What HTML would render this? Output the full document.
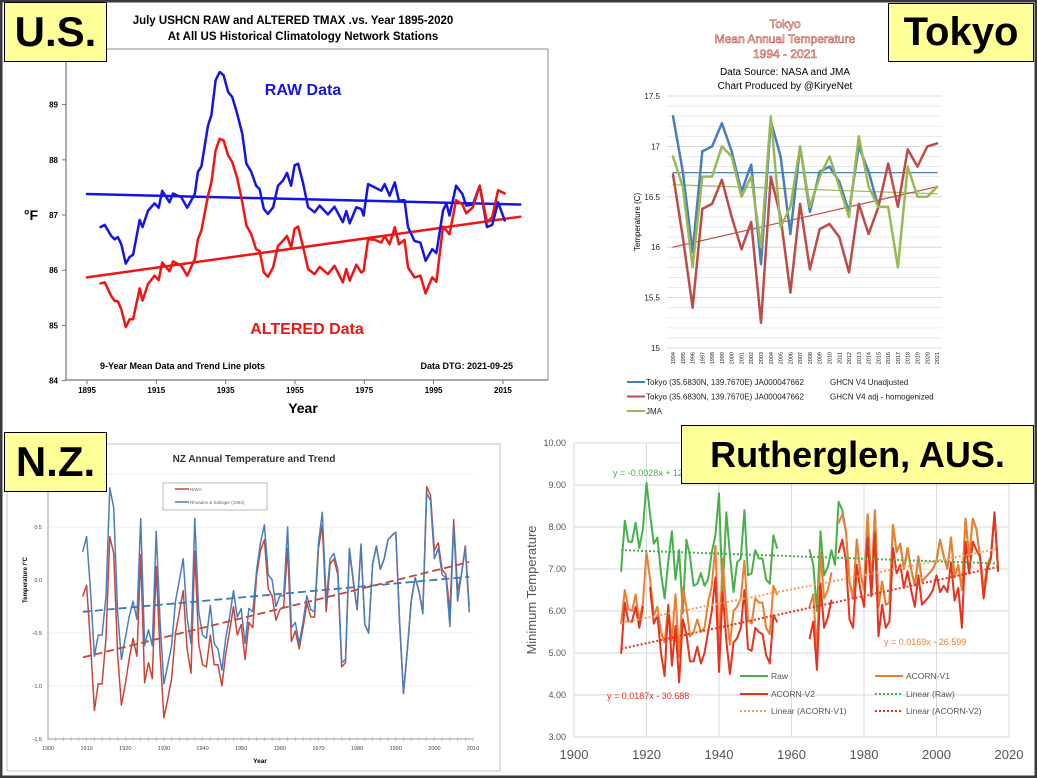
<!DOCTYPE html>
<html><head><meta charset="utf-8"><style>
html,body{margin:0;padding:0;background:#fff;}
#wrap{position:relative;width:1037px;height:778px;overflow:hidden;background:#fff;}
svg{position:absolute;left:0;top:0;}
.lbl{position:absolute;background:#ffff99;border:1.5px solid #000;font-family:"Liberation Sans",sans-serif;font-weight:bold;color:#000;text-align:center;box-sizing:border-box;}
text{font-family:"Liberation Sans",sans-serif;}
</style></head><body>
<div id="wrap">
<svg id="svg" width="1037" height="778" viewBox="0 0 1037 778">
<rect x="0" y="0" width="1037" height="778" fill="none" stroke="#3a3a3a" stroke-width="5"/>
<g id="us">
<line x1="107" y1="49" x2="548" y2="49" stroke="#888" stroke-width="1"/>
<line x1="548" y1="49" x2="548" y2="380" stroke="#888" stroke-width="1"/>
<text x="293" y="24" font-size="11.5" font-weight="bold" text-anchor="middle">July USHCN RAW and ALTERED TMAX .vs. Year 1895-2020</text>
<text x="303" y="40" font-size="11.5" font-weight="bold" text-anchor="middle">At All US Historical Climatology Network Stations</text>
<text x="303" y="95" font-size="16" font-weight="bold" fill="#1414e6" text-anchor="middle">RAW Data</text>
<text x="307" y="334" font-size="16" font-weight="bold" fill="#f01414" text-anchor="middle">ALTERED Data</text>
<text x="100" y="369" font-size="9" font-weight="bold">9-Year Mean Data and Trend Line plots</text>
<text x="513" y="369" font-size="9" font-weight="bold" text-anchor="end">Data DTG: 2021-09-25</text>
<text x="31" y="220" font-size="14" font-weight="bold" text-anchor="middle">°F</text>
<text x="303" y="413" font-size="14" font-weight="bold" text-anchor="middle">Year</text>
</g>
<g id="tk">
<text x="785" y="28" font-size="12" fill="#fff" stroke="#c0504d" stroke-width="0.6" text-anchor="middle" font-family="Liberation Serif">Tokyo</text>
<text x="785" y="43" font-size="12" fill="#fff" stroke="#c0504d" stroke-width="0.6" text-anchor="middle" font-family="Liberation Serif">Mean Annual Temperature</text>
<text x="785" y="58" font-size="12" fill="#fff" stroke="#c0504d" stroke-width="0.6" text-anchor="middle" font-family="Liberation Serif">1994 - 2021</text>
<text x="785" y="75" font-size="10" text-anchor="middle">Data Source: NASA and JMA</text>
<text x="785" y="89" font-size="10" text-anchor="middle">Chart Produced by @KiryeNet</text>
<text x="0" y="0" font-size="8" text-anchor="middle" transform="translate(640,222) rotate(-90)">Temperature (C)</text>
</g>
<g id="nz">
<rect x="7" y="444" width="493" height="327" fill="#fff" stroke="#ccc" stroke-width="1.2"/>
<text x="254" y="462" font-size="10" font-weight="bold" fill="#333" text-anchor="middle">NZ Annual Temperature and Trend</text>
<text x="0" y="0" font-size="6" font-weight="bold" text-anchor="middle" transform="translate(27,580) rotate(-90)">Temperature /°C</text>
<text x="260" y="763" font-size="6.5" font-weight="bold" text-anchor="middle">Year</text>
</g>
<g id="au">
<text x="0" y="0" font-size="13" fill="#555" text-anchor="middle" transform="translate(536,590) rotate(-90)">Minimum Temperature</text>
</g>
</svg>
<div class="lbl" style="left:4px;top:2px;width:103px;height:60px;font-size:42px;line-height:58px;">U.S.</div>
<div class="lbl" style="left:888px;top:3px;width:146px;height:59px;font-size:40px;line-height:57px;">Tokyo</div>
<div class="lbl" style="left:4px;top:432px;width:103px;height:60px;font-size:42px;line-height:58px;">N.Z.</div>
<div class="lbl" style="left:681px;top:425px;width:353px;height:59px;font-size:36px;line-height:57px;">Rutherglen, AUS.</div>
</div>
<script>
// ---------- US data ----------
const usYears=[1898.9,1900.1,1902.0,1903.0,1903.9,1904.9,1906.2,1907.3,1908.3,1910.2,1911.0,1912.6,1914.5,1915.7,1916.7,1918.8,1919.8,1922.2,1923.9,1926.1,1927.0,1928.0,1929.9,1930.9,1932.1,1933.3,1934.4,1935.7,1936.9,1938.3,1939.8,1941.0,1942.4,1943.8,1944.8,1946.0,1947.2,1948.7,1950.1,1951.5,1952.7,1953.9,1954.9,1955.9,1957.3,1958.8,1960.7,1962.1,1964.5,1966.4,1968.8,1969.8,1970.8,1972.7,1974.1,1974.8,1976.1,1978.0,1979.9,1980.9,1982.3,1983.8,1985.0,1986.6,1987.6,1989.5,1991.2,1992.7,1994.6,1995.8,1997.7,1998.7,1999.6,2001.5,2003.3,2004.4,2006.3,2008.3,2010.4,2011.9,2013.6,2015.5];
const usRaw=[86.78,86.82,86.62,86.56,86.6,86.47,86.12,86.24,86.28,86.91,86.78,87.08,87.21,87.13,87.44,87.23,87.39,87.32,87.13,87.38,87.78,87.88,88.62,88.81,89.44,89.59,89.53,89.23,89.14,88.84,88.47,87.93,87.78,87.53,87.47,87.11,87.02,87.14,87.53,87.62,87.76,87.53,87.9,87.93,87.59,87.14,87.05,87.17,87.01,87.15,86.87,87.07,86.85,87.14,87.11,86.99,87.56,87.5,87.44,87.56,87.35,87.59,87.26,87.27,86.78,86.53,86.5,86.17,86.38,86.31,87.08,87.21,86.99,87.53,87.38,87.17,87.19,87.53,86.78,86.82,87.23,86.9];
const usAltered=[85.76,85.78,85.53,85.44,85.44,85.29,84.97,85.11,85.11,85.67,85.45,85.75,85.9,85.82,86.14,85.98,86.16,86.08,85.9,86.2,86.56,86.72,87.35,87.59,88.17,88.38,88.35,88.08,87.96,87.68,87.23,86.81,86.65,86.38,86.35,85.96,85.88,86.05,86.44,86.53,86.62,86.41,86.75,86.79,86.44,86.02,85.93,86.06,85.93,86.08,85.78,86.02,85.81,86.1,85.96,85.99,86.56,86.55,86.5,86.62,86.47,86.78,86.47,86.55,86.05,85.87,85.9,85.58,85.87,85.79,86.79,86.72,86.65,87.27,87.19,87.03,87.14,87.53,86.87,86.96,87.45,87.39];
const usTrendYears=[1895,2020];
const usRawTrend=[87.38,87.19];
const usAlteredTrend=[85.87,86.97];
const usYTicks=[84,85,86,87,88,89];
const usXTicks=[1895,1915,1935,1955,1975,1995,2015];
// ---------- Tokyo data ----------
const tkYears=[1994,1995,1996,1997,1998,1999,2000,2001,2002,2003,2004,2005,2006,2007,2008,2009,2010,2011,2012,2013,2014,2015,2016,2017,2018,2019,2020,2021];
const tkUnadj=[17.3,16.75,15.95,16.95,17.0,17.23,16.95,16.55,16.82,15.83,17.25,16.9,16.13,17.0,16.35,16.75,16.8,16.65,16.35,17.0,16.75,16.4];
const tkAdj=[16.72,16.1,15.4,16.38,16.43,16.67,16.3,15.98,16.25,15.25,16.7,16.3,15.55,16.43,15.78,16.18,16.23,16.1,15.75,16.43,16.13,16.4,16.83,16.4,16.97,16.8,17.0,17.03];
const tkJMA=[16.9,16.6,15.8,16.7,16.7,17.0,16.9,16.5,16.7,16.0,17.3,16.2,16.4,17.0,16.4,16.7,16.9,16.6,16.3,17.1,16.6,16.4,16.4,15.8,16.8,16.5,16.5,16.6];
const tkTrendYears=[1994,2021];
const tkUnadjTrend=[16.74,16.74];
const tkAdjTrend=[16.0,16.6];
const tkJMATrend=[16.62,16.53];
const tkYTicks=[15,15.5,16,16.5,17,17.5];
const tkYLabels=["15","15.5","16","16.5","17","17.5"];
// ---------- NZ data ----------
const nzYears=[];for(let y=1909;y<=2009;y++)nzYears.push(y);
const nzRS=[0.27,0.41,-0.1,-0.72,-0.52,-0.52,-0.15,0.87,0.68,-0.3,-0.75,-0.55,-0.35,-0.2,-0.37,0.58,-0.62,-0.47,-0.62,0.46,-0.4,-0.98,-0.8,-0.62,-0.2,0.0,0.2,-0.35,-0.6,0.58,-0.3,-0.52,-0.55,-0.24,-0.6,-0.65,-0.85,-0.55,-0.35,-0.1,-0.35,-0.27,-0.6,-0.27,-0.3,0.1,0.35,0.52,0.05,0.0,-0.25,-0.15,-0.15,0.5,-0.45,-0.4,-0.6,-0.4,-0.15,-0.28,-0.3,0.35,0.64,-0.2,0.2,0.25,0.1,-0.78,-0.75,0.3,0.0,-0.28,0.34,-0.42,-0.5,0.15,0.32,0.1,0.2,0.38,0.42,0.45,-0.4,-1.07,-0.65,-0.2,0.02,-0.1,-0.32,0.82,0.75,0.2,0.3,0.05,0.02,-0.44,0.52,-0.2,0.05,0.3,-0.3];
const nzNIWA=[-0.15,-0.05,-0.6,-1.23,-0.98,-0.98,-0.55,0.41,0.25,-0.7,-1.18,-0.98,-0.75,-0.55,-0.72,0.24,-0.97,-0.78,-0.93,0.13,-0.7,-1.3,-1.12,-0.93,-0.5,-0.3,-0.1,-0.65,-0.88,0.27,-0.6,-0.8,-0.82,-0.52,-0.8,-0.8,-1.0,-0.7,-0.48,-0.25,-0.52,-0.42,-0.75,-0.4,-0.45,0.05,0.28,0.38,-0.08,-0.15,-0.38,-0.28,-0.25,0.3,-0.58,-0.48,-0.65,-0.45,-0.22,-0.35,-0.35,0.3,0.52,-0.3,0.15,0.2,0.05,-0.82,-0.78,0.28,-0.02,-0.28,0.32,-0.42,-0.5,0.15,0.32,0.1,0.2,0.38,0.42,0.45,-0.4,-1.07,-0.65,-0.2,0.02,-0.1,-0.3,0.88,0.8,0.28,0.35,0.1,0.05,-0.3,0.57,-0.1,0.05,0.32,-0.25];
const nzTrendYears=[1909,2009];
const nzRSTrend=[-0.3,0.03];
const nzNIWATrend=[-0.73,0.17];
const nzYTicks=[-1.5,-1.0,-0.5,0.0,0.5];
const nzXTicks=[1900,1910,1920,1930,1940,1950,1960,1970,1980,1990,2000,2010];
// ---------- Rutherglen data ----------
const auYears=[];for(let y=1913;y<=2017;y++)auYears.push(y);
const auRaw=[6.95,8.15,7.65,7.65,8.1,7.5,7.95,9.05,8.3,7.6,7.75,6.9,6.3,7.2,7.9,6.75,7.45,5.95,7.7,7.3,6.6,6.65,6.9,6.6,6.75,7.4,7.8,8.8,6.35,8.35,7.35,6.45,7.15,7.25,8.4,6.85,6.9,7.45,7.25,7.25,6.75,6.65,7.8,7.5,null,null,null,null,null,null,null,null,7.45,7.1,6.0,7.9,6.85,7.05,7.45,7.1,8.6,8.4,7.9,6.7,6.3,7.7,6.9,6.5,8.3,6.6,8.4,6.1,6.7,6.15,6.2,8.05,7.4,7.6,7.0,7.5,7.0,6.6,7.3,6.7,6.8,6.9,7.0,7.2,7.7,7.3,7.0,7.75,6.8,7.1,6.5,8.2,7.3,8.2,7.95,7.3,6.5,7.1,7.3,8.3,7.0];
const auV1=[5.7,6.5,6.05,6.0,6.4,5.75,6.2,7.4,6.75,5.9,6.1,5.5,5.25,6.1,5.3,6.4,4.9,6.55,6.1,5.4,5.5,5.8,5.5,5.6,6.2,6.6,7.55,5.1,7.25,6.0,5.2,6.0,6.1,6.3,7.2,5.8,5.7,6.3,6.2,6.2,5.6,5.45,6.6,6.4,null,null,null,null,null,null,null,null,6.1,6.4,5.0,7.4,6.3,6.5,6.9,null,8.1,8.3,7.9,6.7,6.3,7.7,6.9,6.5,8.3,6.6,8.4,6.1,6.7,6.15,6.2,8.05,7.4,7.6,7.0,7.5,7.0,6.6,7.3,6.7,6.8,6.9,7.0,7.2,7.7,7.3,7.0,7.75,6.8,7.1,6.5,8.2,7.3,8.2,7.95,7.3,6.5,7.1,7.3,8.3,7.0];
const auV2=[5.0,6.2,5.75,5.75,6.1,5.6,6.1,null,6.55,5.7,5.9,5.0,4.45,6.15,4.7,5.65,4.3,5.8,5.45,4.8,4.8,5.15,4.75,5.0,5.5,6.0,6.8,4.55,6.45,5.3,4.5,5.25,5.35,5.6,6.5,5.1,5.05,5.6,5.5,5.45,4.95,4.75,5.9,5.75,null,null,null,null,null,null,null,null,5.35,5.75,4.6,6.65,5.6,5.85,6.25,null,7.4,7.7,7.2,5.8,5.6,7.1,6.5,6.1,7.75,6.35,7.85,5.4,6.15,5.6,5.75,7.5,6.9,7.1,6.55,6.95,6.5,6.1,6.85,6.15,6.25,6.35,6.5,6.85,6.45,6.6,6.45,7.15,6.25,6.55,5.6,7.65,6.9,7.65,7.45,7.3,6.3,7.0,7.25,8.35,6.95];
const auTrendYears=[1913,2017];
const auRawTrend=[7.45,7.13];
const auV1Trend=[5.72,7.48];
const auV2Trend=[5.1,7.05];
const auYTicks=[3,4,5,6,7,8,9,10];
const auXTicks=[1900,1920,1940,1960,1980,2000,2020];

// ---------- axis functions ----------
const xU=y=>87+(y-1895)*3.466, yU=v=>215-(v-87)*55.2;
const xT=y=>673+(y-1994)*9.78, yT=v=>348-(v-15)*100.8;
const xN=y=>48+(y-1900)*3.864, yN=v=>580-v*106;
const xA=y=>574+(y-1900)*3.625, yA=v=>737-(v-3)*42;

const NS="http://www.w3.org/2000/svg";
function mk(tag,attrs,parent){const e=document.createElementNS(NS,tag);for(const k in attrs)e.setAttribute(k,attrs[k]);parent.appendChild(e);return e;}
function pathD(xs,vs,fx,fy){let d="",pen=false;for(let i=0;i<vs.length;i++){const v=vs[i];if(v===null||v===undefined){pen=false;continue;}d+=(pen?"L":"M")+fx(xs[i]).toFixed(1)+","+fy(v).toFixed(1);pen=true;}return d;}
function series(g,name,xs,vs,fx,fy,color,w,dash){
  const el=mk("path",{d:pathD(xs,vs,fx,fy),fill:"none",stroke:color,"stroke-width":w,"stroke-linejoin":"round","stroke-linecap":dash?"butt":"round"},g);
  if(dash)el.setAttribute("stroke-dasharray",dash);
  
  
  return el;
}
function txt(g,name,x,y,s,size,anchor,fill,weight){
  const el=mk("text",{x:x,y:y,"font-size":size,"text-anchor":anchor||"start",fill:fill||"#000","font-weight":weight||"normal"},g);
  el.textContent=s;
  
  
  return el;
}

// ---------- US chart ----------
const gU=document.getElementById("us");
mk("line",{x1:66,y1:62,x2:66,y2:380,stroke:"#777","stroke-width":1.2},gU);
mk("line",{x1:66,y1:380,x2:548,y2:380,stroke:"#777","stroke-width":1.2},gU);
usYTicks.forEach(v=>{mk("line",{x1:62,y1:yU(v),x2:66,y2:yU(v),stroke:"#777"},gU);txt(gU,"us-y-tick",58,yU(v)+3,String(v),8,"end","#000","bold");});
usXTicks.forEach(y=>{mk("line",{x1:xU(y),y1:380,x2:xU(y),y2:384,stroke:"#777"},gU);txt(gU,"us-x-tick",xU(y),393,String(y),8,"middle","#000","bold");});
series(gU,"raw-trend-line",usTrendYears,usRawTrend,xU,yU,"#1414e6",2.5);
series(gU,"altered-trend-line",usTrendYears,usAlteredTrend,xU,yU,"#f01414",2.5);
series(gU,"raw-data-line",usYears,usRaw,xU,yU,"#1414e6",2.5);
series(gU,"altered-data-line",usYears,usAltered,xU,yU,"#f01414",2.5);

// ---------- Tokyo chart ----------
const gT=document.getElementById("tk");
for(let i=0;i<=25;i++){const v=15+i*0.1;mk("line",{x1:667,y1:yT(v),x2:942,y2:yT(v),stroke:i%5===0?"#d0d0d0":"#e6e6e6","stroke-width":0.8},gT);}
tkYTicks.forEach((v,i)=>txt(gT,"tokyo-y-tick",660,yT(v)+3,tkYLabels[i],8,"end","#222"));
tkYears.forEach(y=>{const t=txt(gT,"tokyo-x-tick",0,0,String(y),5.5,"end","#222");t.setAttribute("transform","translate("+(xT(y)+2)+",352) rotate(-90)");});
series(gT,"tokyo-unadjusted-trend",tkTrendYears,tkUnadjTrend,xT,yT,"#4a7ebb",1.2);
series(gT,"tokyo-jma-trend",tkTrendYears,tkJMATrend,xT,yT,"#98b954",1.2);
series(gT,"tokyo-adjusted-trend",tkTrendYears,tkAdjTrend,xT,yT,"#be4b48",1.2);
series(gT,"tokyo-unadjusted-line",tkYears,tkUnadj,xT,yT,"#4a7ebb",2.5);
series(gT,"tokyo-adjusted-line",tkYears,tkAdj,xT,yT,"#be4b48",2.5);
series(gT,"tokyo-jma-line",tkYears,tkJMA,xT,yT,"#98b954",2.5);
[["#4a7ebb","Tokyo (35.6830N, 139.7670E) JA000047662","GHCN V4 Unadjusted"],["#be4b48","Tokyo (35.6830N, 139.7670E) JA000047662","GHCN V4 adj - homogenized"],["#98b954","JMA",""]].forEach((r,i)=>{
  const y=382+i*14.5;
  mk("line",{x1:627,y1:y,x2:645,y2:y,stroke:r[0],"stroke-width":2},gT);
  txt(gT,"tokyo-legend-entry",646,y+3,r[1],8,"start","#222");
  if(r[2])txt(gT,"tokyo-legend-source",830,y+3,r[2],8,"start","#222");
});

// ---------- NZ chart ----------
const gN=document.getElementById("nz");
[1.0,0.5,-0.5,-1.0].forEach(v=>mk("line",{x1:48,y1:yN(v),x2:473,y2:yN(v),stroke:"#eee","stroke-width":1},gN));
mk("line",{x1:48,y1:470,x2:48,y2:739,stroke:"#999","stroke-width":1},gN);
mk("line",{x1:48,y1:739,x2:473,y2:739,stroke:"#999","stroke-width":1},gN);
for(let y=1900;y<=2010;y+=2)mk("line",{x1:xN(y),y1:737,x2:xN(y),y2:741,stroke:"#aaa","stroke-width":0.6},gN);
nzYTicks.forEach(v=>txt(gN,"nz-y-tick",42,yN(v)+2,v.toFixed(1),5.5,"end","#444"));
nzXTicks.forEach(y=>txt(gN,"nz-x-tick",xN(y),750,String(y),5.5,"middle","#444"));
series(gN,"nz-niwa-line",nzYears,nzNIWA,xN,yN,"#c8453a",1.5);
series(gN,"nz-rhoades-salinger-line",nzYears,nzRS,xN,yN,"#4a7ebb",1.5);
series(gN,"nz-niwa-trend",nzTrendYears,nzNIWATrend,xN,yN,"#c8453a",1.8,"8,4");
series(gN,"nz-rs-trend",nzTrendYears,nzRSTrend,xN,yN,"#3a78b8",1.8,"8,4");
mk("rect",{x:163,y:483,width:104,height:27,fill:"#fff",stroke:"#aaa","stroke-width":0.8},gN);
mk("line",{x1:175,y1:489,x2:189,y2:489,stroke:"#c8453a","stroke-width":1.5},gN);
txt(gN,"nz-legend-niwa",190,491,"NIWA",4.5,"start","#666");
mk("line",{x1:175,y1:502,x2:189,y2:502,stroke:"#4a7ebb","stroke-width":1.5},gN);
txt(gN,"nz-legend-rs",190,504,"Rhoades & Salinger (1993)",4.5,"start","#666");

// ---------- Rutherglen chart ----------
const gA=document.getElementById("au");
auYTicks.forEach(v=>{mk("line",{x1:574,y1:yA(v),x2:1009,y2:yA(v),stroke:"#dadada","stroke-width":1},gA);txt(gA,"au-y-tick",566,yA(v)+3,v.toFixed(2),9,"end","#555");});
auXTicks.forEach(y=>{mk("line",{x1:xA(y),y1:443,x2:xA(y),y2:737,stroke:"#dadada","stroke-width":1},gA);txt(gA,"au-x-tick",xA(y),759,String(y),13,"middle","#555");});
series(gA,"au-raw-line",auYears,auRaw,xA,yA,"#47b04b",2);
series(gA,"au-acorn-v1-line",auYears,auV1,xA,yA,"#ed7d31",2);
series(gA,"au-acorn-v2-line",auYears,auV2,xA,yA,"#e8321e",2);
series(gA,"au-raw-trend",auTrendYears,auRawTrend,xA,yA,"#47b04b",2,"2,2");
series(gA,"au-acorn-v1-trend",auTrendYears,auV1Trend,xA,yA,"#f5a05a",2,"2,2");
series(gA,"au-acorn-v2-trend",auTrendYears,auV2Trend,xA,yA,"#e8321e",2,"2,2");
txt(gA,"au-raw-equation",613,476,"y = -0.0028x + 12",9,"start","#47b04b");
txt(gA,"au-v1-equation",884,645,"y = 0.0169x - 26.599",9,"start","#ed7d31");
txt(gA,"au-v2-equation",607,699,"y = 0.0187x - 30.688",9,"start","#e8321e");
[[740,676,"#47b04b","","Raw"],[875,676,"#ed7d31","","ACORN-V1"],[740,694,"#e8321e","","ACORN-V2"],[875,694,"#47b04b","2,2","Linear (Raw)"],[740,711,"#f5a05a","2,2","Linear (ACORN-V1)"],[875,711,"#e8321e","2,2","Linear (ACORN-V2)"]].forEach(r=>{
  const l=mk("line",{x1:r[0],y1:r[1],x2:r[0]+28,y2:r[1],stroke:r[2],"stroke-width":2},gA);
  if(r[3])l.setAttribute("stroke-dasharray",r[3]);
  txt(gA,"au-legend-entry",r[0]+31,r[1]+3,r[4],8.5,"start","#555");
});
</script>
</body></html>
